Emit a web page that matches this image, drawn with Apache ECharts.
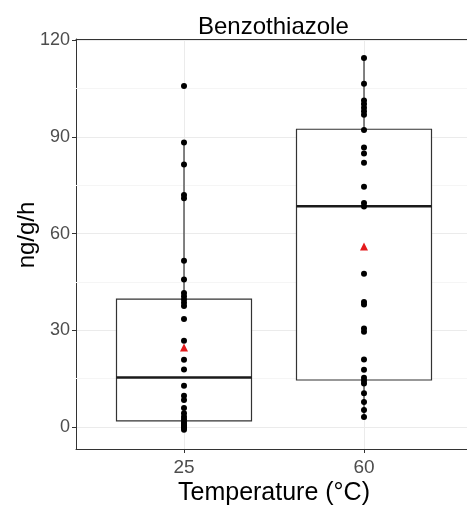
<!DOCTYPE html>
<html>
<head>
<meta charset="utf-8">
<script src="https://cdn.jsdelivr.net/npm/echarts@6/dist/echarts.min.js"></script>
<style>html,body{margin:0;padding:0;background:#fff;}#c{width:467px;height:506px;}</style>
</head>
<body>
<div id="c"></div>
<script>
const chartTitle = 'Benzothiazole';
const categories = ['25', '60'];
const yTicks = [0, 30, 60, 90, 120];
const yMinorTicks = [15, 45, 75, 105];
const points25 = [105.8, 88.3, 81.5, 72.0, 71.0, 51.6, 45.8, 41.6, 40.6, 39.6, 38.6, 37.6, 33.5, 26.8, 20.9, 17.9, 12.8, 9.7, 8.4, 5.9, 4.3, 3.2, 2.4, 1.6, 1.0, 0.5, 0.1, -0.3, -0.8];
const points60 = [114.5, 106.5, 101.3, 100.2, 99.1, 98.0, 96.9, 92.2, 86.7, 84.9, 82.0, 74.6, 69.5, 68.4, 47.6, 38.8, 38.0, 30.6, 29.6, 21.0, 17.8, 15.3, 14.4, 13.5, 10.5, 7.8, 5.3, 3.1];
const boxMin = [-0.8, 3.1];
const boxQ1 = [1.9, 14.6];
const boxMedian = [15.4, 68.5];
const boxQ3 = [39.7, 92.4];
const boxMax = [88.3, 114.5];
const means = [24.7, 56.0];

const FONT = '"Liberation Sans", Arial, Helvetica, sans-serif';
const chart = echarts.init(document.getElementById('c'), null, {renderer: 'canvas'});

const boxData = categories.map((c, i) => [i + 1, boxMin[i], boxQ1[i], boxMedian[i], boxQ3[i], boxMax[i]]);
const pointData = [];
points25.forEach(v => pointData.push([1, v]));
points60.forEach(v => pointData.push([2, v]));
const meanData = means.map((m, i) => [i + 1, m]);
const HALF = 0.375;
const AXIS_LINE = {show: true, onZero: false, lineStyle: {color: '#333', width: 1}};

chart.setOption({
  animation: false,
  title: {
    text: chartTitle, left: 193, top: 10,
    textStyle: {fontFamily: FONT, fontSize: 24, fontWeight: 'normal', color: '#000'}
  },
  grid: {left: 76, top: 39, width: 396, height: 410, show: false, outerBoundsMode: 'none', containLabel: false},
  xAxis: [{
    type: 'value', min: 0.4, max: 2.6, position: 'bottom',
    axisLine: AXIS_LINE,
    axisTick: {show: true, customValues: [1, 2], length: 4, lineStyle: {color: '#333'}},
    axisLabel: {customValues: [1, 2], formatter: v => categories[Math.round(v) - 1] || '', color: '#4d4d4d', fontFamily: FONT, fontSize: 19, margin: 9},
    splitLine: {show: true, lineStyle: {color: '#ebebeb', width: 1}},
    name: 'Temperature (°C)', nameLocation: 'middle', nameGap: 32, nameMoveOverlap: false,
    nameTextStyle: {fontFamily: FONT, fontSize: 25, color: '#000'}
  }, {
    type: 'value', min: 0.4, max: 2.6, position: 'top',
    axisLine: AXIS_LINE, axisTick: {show: false}, axisLabel: {show: false}, splitLine: {show: false}
  }],
  yAxis: {
    type: 'value', min: -6.8, max: 120.4,
    axisLine: AXIS_LINE,
    axisTick: {show: true, customValues: yTicks, length: 4, lineStyle: {color: '#333'}},
    axisLabel: {customValues: yTicks, color: '#4d4d4d', fontFamily: FONT, fontSize: 18, margin: 6},
    splitLine: {show: true, lineStyle: {color: '#ebebeb', width: 1}},
    name: 'ng/g/h', nameLocation: 'middle', nameGap: 37, nameRotate: 90, nameMoveOverlap: false,
    nameTextStyle: {fontFamily: FONT, fontSize: 24, color: '#000', padding: [0, 0, 0, 18]}
  },
  series: [{
    type: 'custom',
    data: boxData,
    encode: {x: 0, y: [1, 2, 3, 4, 5]},
    z: 2,
    markLine: {
      silent: true, symbol: 'none', label: {show: false}, z: 1,
      lineStyle: {color: '#f5f5f5', width: 1, type: 'solid'},
      data: yMinorTicks.map(v => ({yAxis: v}))
    },
    renderItem: function (params, api) {
      const x = api.value(0);
      const pMin = api.coord([x, api.value(1)]);
      const pQ1 = api.coord([x, api.value(2)]);
      const pMed = api.coord([x, api.value(3)]);
      const pQ3 = api.coord([x, api.value(4)]);
      const pMax = api.coord([x, api.value(5)]);
      const xl = api.coord([x - HALF, api.value(3)])[0];
      const xr = api.coord([x + HALF, api.value(3)])[0];
      const ls = {stroke: '#333', lineWidth: 1.2};
      return {
        type: 'group',
        children: [
          {type: 'line', shape: {x1: pQ3[0], y1: pQ3[1], x2: pMax[0], y2: pMax[1]}, style: ls},
          {type: 'line', shape: {x1: pQ1[0], y1: pQ1[1], x2: pMin[0], y2: pMin[1]}, style: ls},
          {type: 'rect', shape: {x: xl, y: pQ3[1], width: xr - xl, height: pQ1[1] - pQ3[1]}, style: {fill: '#fff', stroke: '#333', lineWidth: 1.2}},
          {type: 'line', shape: {x1: xl, y1: pMed[1], x2: xr, y2: pMed[1]}, style: {stroke: '#1a1a1a', lineWidth: 2.4}}
        ]
      };
    }
  }, {
    type: 'scatter', data: pointData, symbol: 'circle', symbolSize: 6,
    itemStyle: {color: '#000', opacity: 1}, z: 3
  }, {
    type: 'scatter', data: meanData, symbol: 'triangle', symbolSize: 8,
    itemStyle: {color: '#e41a1c', opacity: 1}, z: 4
  }]
});
</script>
</body>
</html>
